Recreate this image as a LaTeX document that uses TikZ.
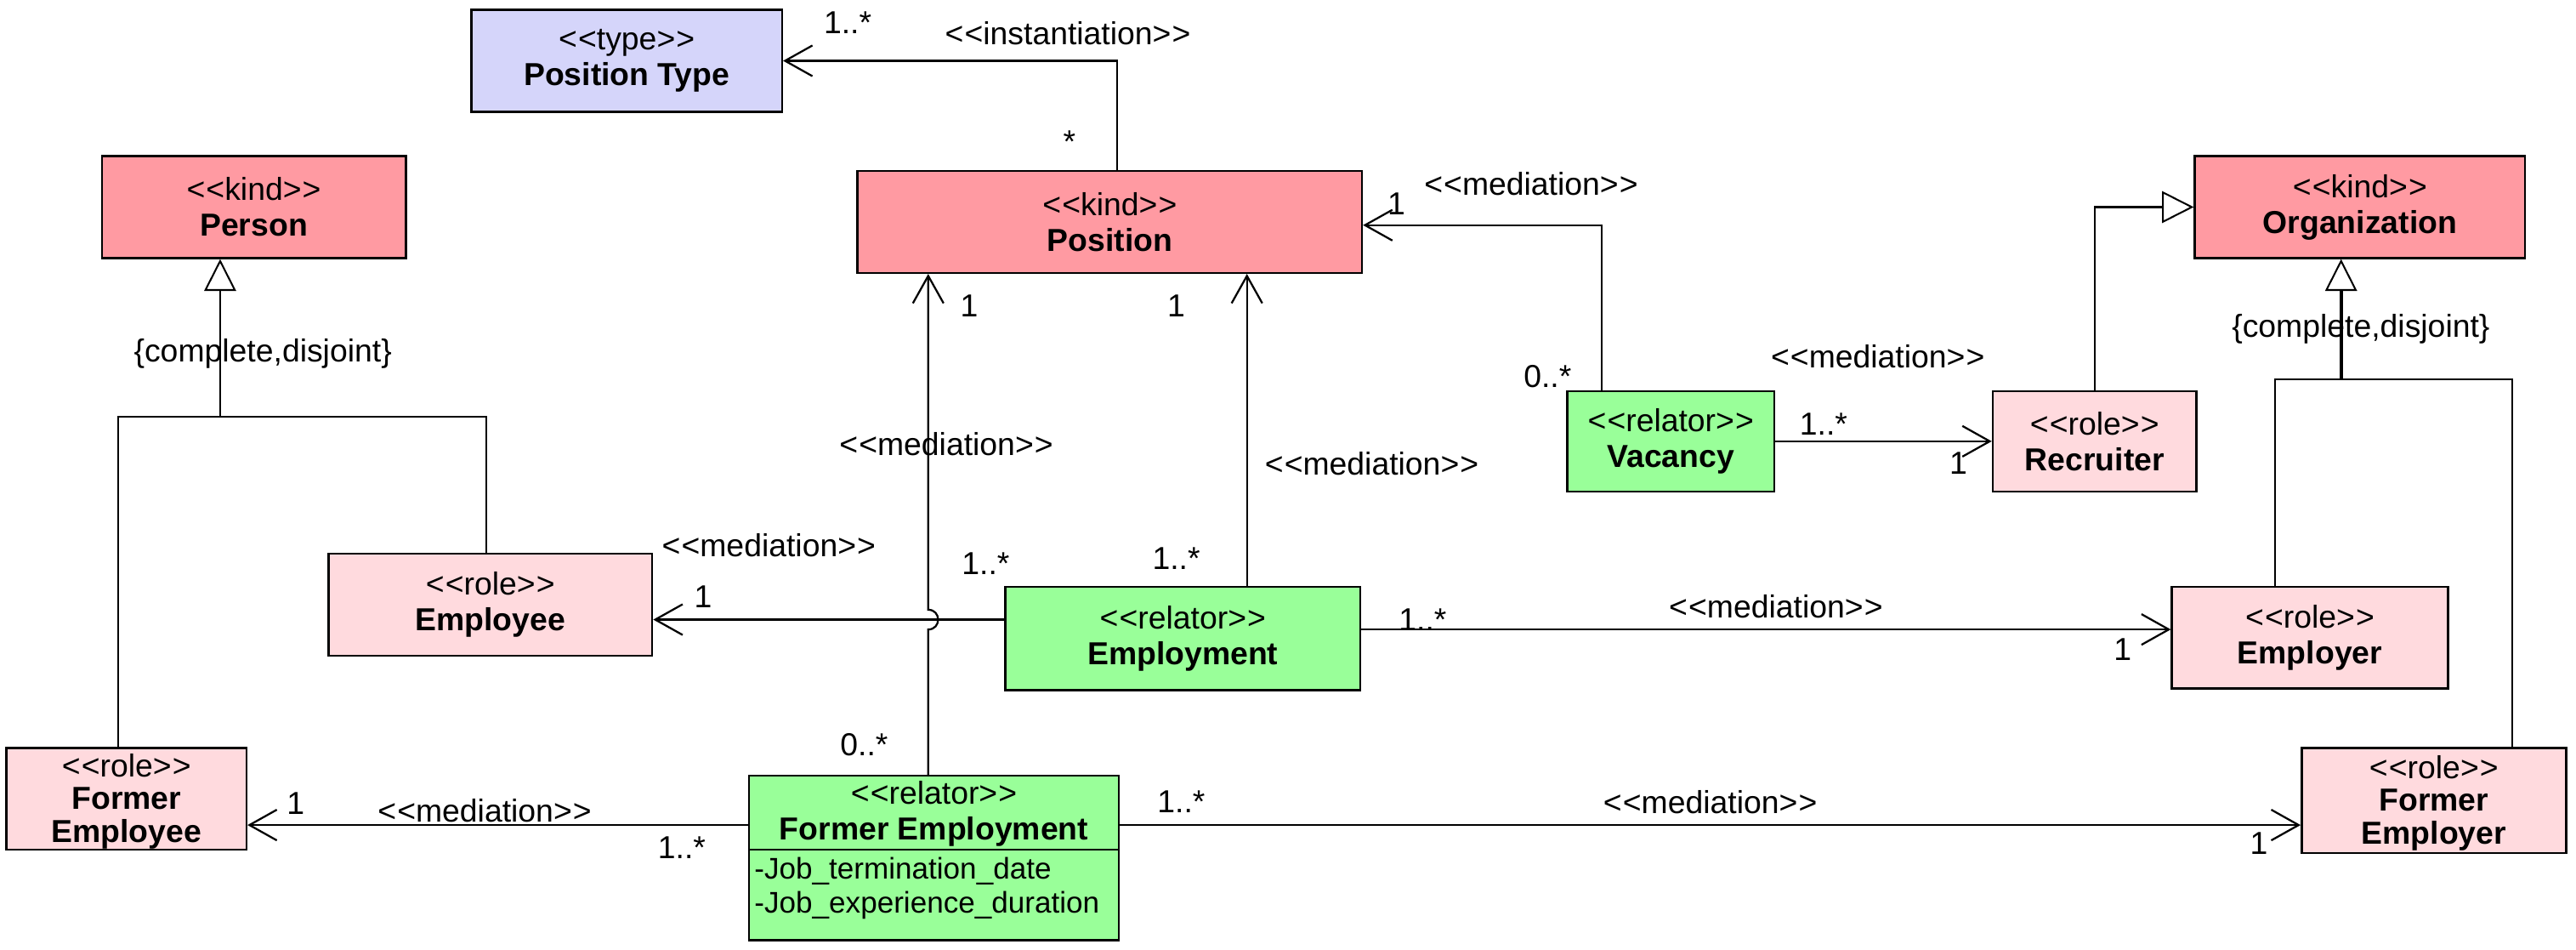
\documentclass[tikz,border=0pt]{standalone}
\usepackage{fontspec}
\setmainfont{Liberation Sans}
\usetikzlibrary{arrows.meta,calc}
\definecolor{kindc}{RGB}{255,154,162}
\definecolor{typec}{RGB}{213,213,250}
\definecolor{relc}{RGB}{153,255,153}
\definecolor{rolec}{RGB}{255,218,222}
\newcommand\stereo[1]{<\kern0.5pt<#1>\kern0.5pt>}
\begin{document}
\begin{tikzpicture}[x=0.03cm,y=-0.03cm,
  txt/.style={font=\fontsize{16.5}{18.5}\selectfont},
  box/.style={txt,draw,line width=1.1pt,inner sep=0pt,align=center},
  kindbox/.style={box,fill=kindc},
  typebox/.style={box,fill=typec},
  relbox/.style={box,fill=relc},
  rolebox/.style={box,fill=rolec},
  lbl/.style={txt,inner sep=0pt},
  tri/.style={font=\fontsize{16.5}{17}\selectfont,inner sep=0pt,align=center},
  attr/.style={font=\fontsize{15.5}{18}\selectfont,inner sep=0pt,anchor=west},
  assoc/.style={line width=1pt,-{Straight Barb[length=0.5cm,width=0.56cm,line width=1pt]}},
  genl/.style={line width=0.9pt},
  gen/.style={line width=0.9pt,-{Triangle[open,length=0.58cm,width=0.58cm,line width=0.9pt,fill=white]}}
]
\useasboundingbox (0,0) rectangle (1568,578);

% classes
\node[typebox,minimum width=5.67cm,minimum height=1.86cm] (pt) at (381.5,37) {\stereo{type}\\\textbf{Position Type}};
\node[kindbox,minimum width=5.55cm,minimum height=1.86cm] (person) at (154.5,126) {\stereo{kind}\\\textbf{Person}};
\node[kindbox,minimum width=9.21cm,minimum height=1.86cm] (pos) at (675.5,135) {\stereo{kind}\\\textbf{Position}};
\node[kindbox,minimum width=6.03cm,minimum height=1.86cm] (org) at (1436.5,126) {\stereo{kind}\\\textbf{Organization}};
\node[relbox,minimum width=3.78cm,minimum height=1.83cm] (vac) at (1017,268.5) {\stereo{relator}\\\textbf{Vacancy}};
\node[rolebox,minimum width=3.72cm,minimum height=1.83cm] (rec) at (1275,268.5) {\stereo{role}\\\textbf{Recruiter}};
\node[rolebox,minimum width=5.91cm,minimum height=1.86cm] (empe) at (298.5,368) {\stereo{role}\\\textbf{Employee}};
\node[relbox,minimum width=6.48cm,minimum height=1.89cm] (emp) at (720,388.5) {\stereo{relator}\\\textbf{Employment}};
\node[rolebox,minimum width=5.04cm,minimum height=1.86cm] (empr) at (1406,388) {\stereo{role}\\\textbf{Employer}};
\node[rolebox,minimum width=4.38cm,minimum height=1.86cm] (fee) at (77,486) {};
\node[tri] (feet) at (77,487.5) {\stereo{role}\\\textbf{Former}\\\textbf{Employee}};
\node[rolebox,minimum width=4.83cm,minimum height=1.92cm] (fer) at (1481.5,487) {};
\node[tri] (fert) at (1481.5,488.5) {\stereo{role}\\\textbf{Former}\\\textbf{Employer}};
\node[relbox,minimum width=6.75cm,minimum height=3.0cm] (femp) at (568.5,522) {};
\draw[line width=1.1pt] ($(femp.west)+(0,-5)$) coordinate (fdl) -- (fdl -| femp.east);
\node[lbl,align=center] (fempt) at (568.5,495) {\stereo{relator}\\\textbf{Former Employment}};
\node[attr] (fa1) at (459,530) {-Job\_termination\_date};
\node[attr] (fa2) at (459,551) {-Job\_experience\_duration};

% instantiation
\draw[assoc] ($(pos.north)+(4.5,0)$) |- (pt.east);
\node[lbl] (i1) at (516,14) {1..*};
\node[lbl] (i2) at (650,20) {\stereo{instantiation}};
\node[lbl] (i3) at (651,86) {*};

% vacancy -> position
\draw[assoc] ($(vac.north)+(-42,0)$) |- ($(pos.east)+(0,2)$);
\node[lbl] (v1) at (850,124) {1};
\node[lbl] (v2) at (932,112) {\stereo{mediation}};
\node[lbl] (v3) at (942,229) {0..*};

% vacancy -> recruiter
\draw[assoc] (vac.east) -- (rec.west);
\node[lbl] (r1) at (1110,258) {1..*};
\node[lbl] (r2) at (1192,282) {1};
\node[lbl] (r3) at (1143,217) {\stereo{mediation}};

% recruiter -> organization
\draw[gen] (rec.north) |- (org.west);

% person generalization set
\coordinate (pj) at ($(person.south)+(-20.5,96)$);
\coordinate (fel) at ($(fee.north)+(-5,0)$);
\coordinate (eer) at ($(empe.north)+(-2.5,0)$);
\draw[genl] (fel) |- (pj) -| (eer);
\draw[gen] (pj) -- (pj |- person.south);
\node[lbl] (pc) at (160,215) {\{complete,disjoint\}};

% organization generalization set
\coordinate (oj) at ($(org.south)+(-11.5,73)$);
\coordinate (erl) at ($(empr.north)+(-21,0)$);
\coordinate (ferr) at ($(fer.north)+(47.5,0)$);
\draw[genl] (erl) |- (oj) -| (ferr);
\draw[gen,line width=1.8pt] (oj) -- (oj |- org.south);
\node[lbl] (oc) at (1437,200) {\{complete,disjoint\}};

% employment -> employee
\coordinate (eh) at ($(emp.west)+(0,-11.5)$);
\draw[assoc] (eh) -- (eh -| empe.east);
\node[lbl] (e1) at (428,363) {1};
\node[lbl] (e2) at (468,332) {\stereo{mediation}};
\node[lbl] (e3) at (600,343) {1..*};

% former employment -> position (with jump)
\coordinate (fa) at ($(femp.north)+(-3.5,0)$);
\coordinate (jm) at (fa |- eh);
\draw[assoc] (fa) -- ($(jm)+(0,6)$) .. controls ($(jm)+(8,6)$) and ($(jm)+(8,-6)$) .. ($(jm)+(0,-6)$) -- (fa |- pos.south);
\node[lbl] (f1) at (590,186) {1};
\node[lbl] (f2) at (576,270) {\stereo{mediation}};
\node[lbl] (f3) at (526,453) {0..*};

% employment -> position
\coordinate (ea) at ($(emp.north)+(39,0)$);
\draw[assoc] (ea) -- (ea |- pos.south);
\node[lbl] (g1) at (716,186) {1};
\node[lbl] (g2) at (835,282) {\stereo{mediation}};
\node[lbl] (g3) at (716,340) {1..*};

% employment -> employer
\coordinate (er) at ($(emp.east)+(0,-5.5)$);
\draw[assoc] (er) -- (er -| empr.west);
\node[lbl] (h1) at (866,377) {1..*};
\node[lbl] (h2) at (1081,369) {\stereo{mediation}};
\node[lbl] (h3) at (1292,395) {1};

% former employment -> former employee
\coordinate (fl) at ($(femp.west)+(0,-20)$);
\draw[assoc] (fl) -- (fl -| fee.east);
\node[lbl] (k1) at (180,489) {1};
\node[lbl] (k2) at (295,493) {\stereo{mediation}};
\node[lbl] (k3) at (415,516) {1..*};

% former employment -> former employer
\coordinate (fr) at ($(femp.east)+(0,-20)$);
\draw[assoc] (fr) -- (fr -| fer.west);
\node[lbl] (m1) at (719,488) {1..*};
\node[lbl] (m2) at (1041,488) {\stereo{mediation}};
\node[lbl] (m3) at (1375,513) {1};
\end{tikzpicture}
\end{document}
